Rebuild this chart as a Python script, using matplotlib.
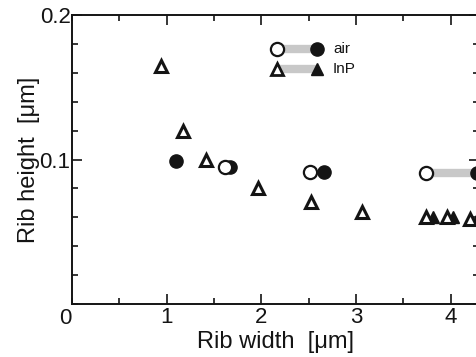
import numpy as np
import matplotlib
matplotlib.use('Agg')
import matplotlib.pyplot as plt
from matplotlib.ticker import MultipleLocator

plt.rcParams['font.family'] = ['Liberation Sans', 'DejaVu Sans']

# open / filled triangles (InP)
tri_open_x = [0.94, 1.17, 1.42, 1.96, 2.52, 3.06, 3.74, 3.96, 4.21]
tri_open_y = [0.165, 0.120, 0.100, 0.080, 0.0705, 0.064, 0.060, 0.060, 0.059]
tri_fill_x = [3.81, 4.03, 4.28]
tri_fill_y = [0.060, 0.060, 0.059]

# open / filled circles (air)
circ_open_x = [1.62, 2.51, 3.74]
circ_open_y = [0.0945, 0.0912, 0.0907]
circ_fill_x = [1.10, 1.67, 2.66, 4.28]
circ_fill_y = [0.099, 0.0945, 0.0912, 0.0907]

# grey band joining the pair at the right edge
band_x = [3.74, 4.28]
band_y = [0.0907, 0.0907]

fig = plt.figure(figsize=(4.76, 3.57), dpi=100)
ax = fig.add_axes([72/476, 53/357, 407/476, 289/357])

ink = '#141414'
band_col = '#c8c8c8'
ms_c = 9.5
ms_t = 8.8
ax.plot(band_x, band_y, color=band_col, lw=6, solid_capstyle='butt', zorder=1)

ax.plot(tri_fill_x, tri_fill_y, ls='none', marker='^', ms=ms_t, color=ink, zorder=2, clip_on=False)
ax.plot(tri_open_x, tri_open_y, ls='none', marker='^', ms=ms_t, mfc='white', mec=ink, mew=2.2, zorder=3)
ax.plot(circ_fill_x, circ_fill_y, ls='none', marker='o', ms=ms_c, color=ink, zorder=2, clip_on=False)
ax.plot(circ_open_x, circ_open_y, ls='none', marker='o', ms=ms_c, mfc='white', mec=ink, mew=1.6, zorder=3)

# hand made legend
tr = ax.transAxes
for y0, mk, ms, mw, lab in [(0.882, 'o', ms_c, 1.6, 'air'), (0.813, '^', ms_t, 2.0, 'InP')]:
    ax.plot([0.504, 0.602], [y0, y0], transform=tr, color=band_col, lw=6, solid_capstyle='butt', zorder=1)
    ax.plot([0.504], [y0], transform=tr, marker=mk, ms=ms, mfc='white', mec=ink, mew=mw, zorder=3)
    ax.plot([0.602], [y0], transform=tr, marker=mk, ms=ms, color=ink, zorder=3)
    ax.text(0.641, y0, lab, transform=tr, fontsize=11, va='center', ha='left', color=ink)

ax.set_xlim(0, 4.30)
ax.set_ylim(0, 0.2)
ax.xaxis.set_minor_locator(MultipleLocator(0.5))
ax.yaxis.set_minor_locator(MultipleLocator(0.02))
ax.set_xticks([1, 2, 3, 4])
ax.set_xticklabels(['1', '2', '3', '4'])
ax.set_yticks([0.1, 0.2])
ax.set_yticklabels(['0.1', '0.2'])
ax.tick_params(which='both', direction='in', top=True, right=True, width=1.2, labelsize=16, colors=ink)
ax.tick_params(which='major', length=7)
ax.tick_params(which='minor', length=4)
ax.tick_params(axis='x', pad=2)
ax.tick_params(axis='y', pad=1)
ax.text(-0.01, -0.003, '0', transform=ax.transData, fontsize=16, ha='right', va='top', color=ink)

for s in ax.spines.values():
    s.set_linewidth(1.4)
    s.set_color(ink)

ax.set_xlabel('Rib width  [μm]', fontsize=17, labelpad=2, color=ink)
ax.set_ylabel('Rib height  [μm]', fontsize=17, labelpad=0, color=ink)

fig.savefig('out.png', dpi=100)
